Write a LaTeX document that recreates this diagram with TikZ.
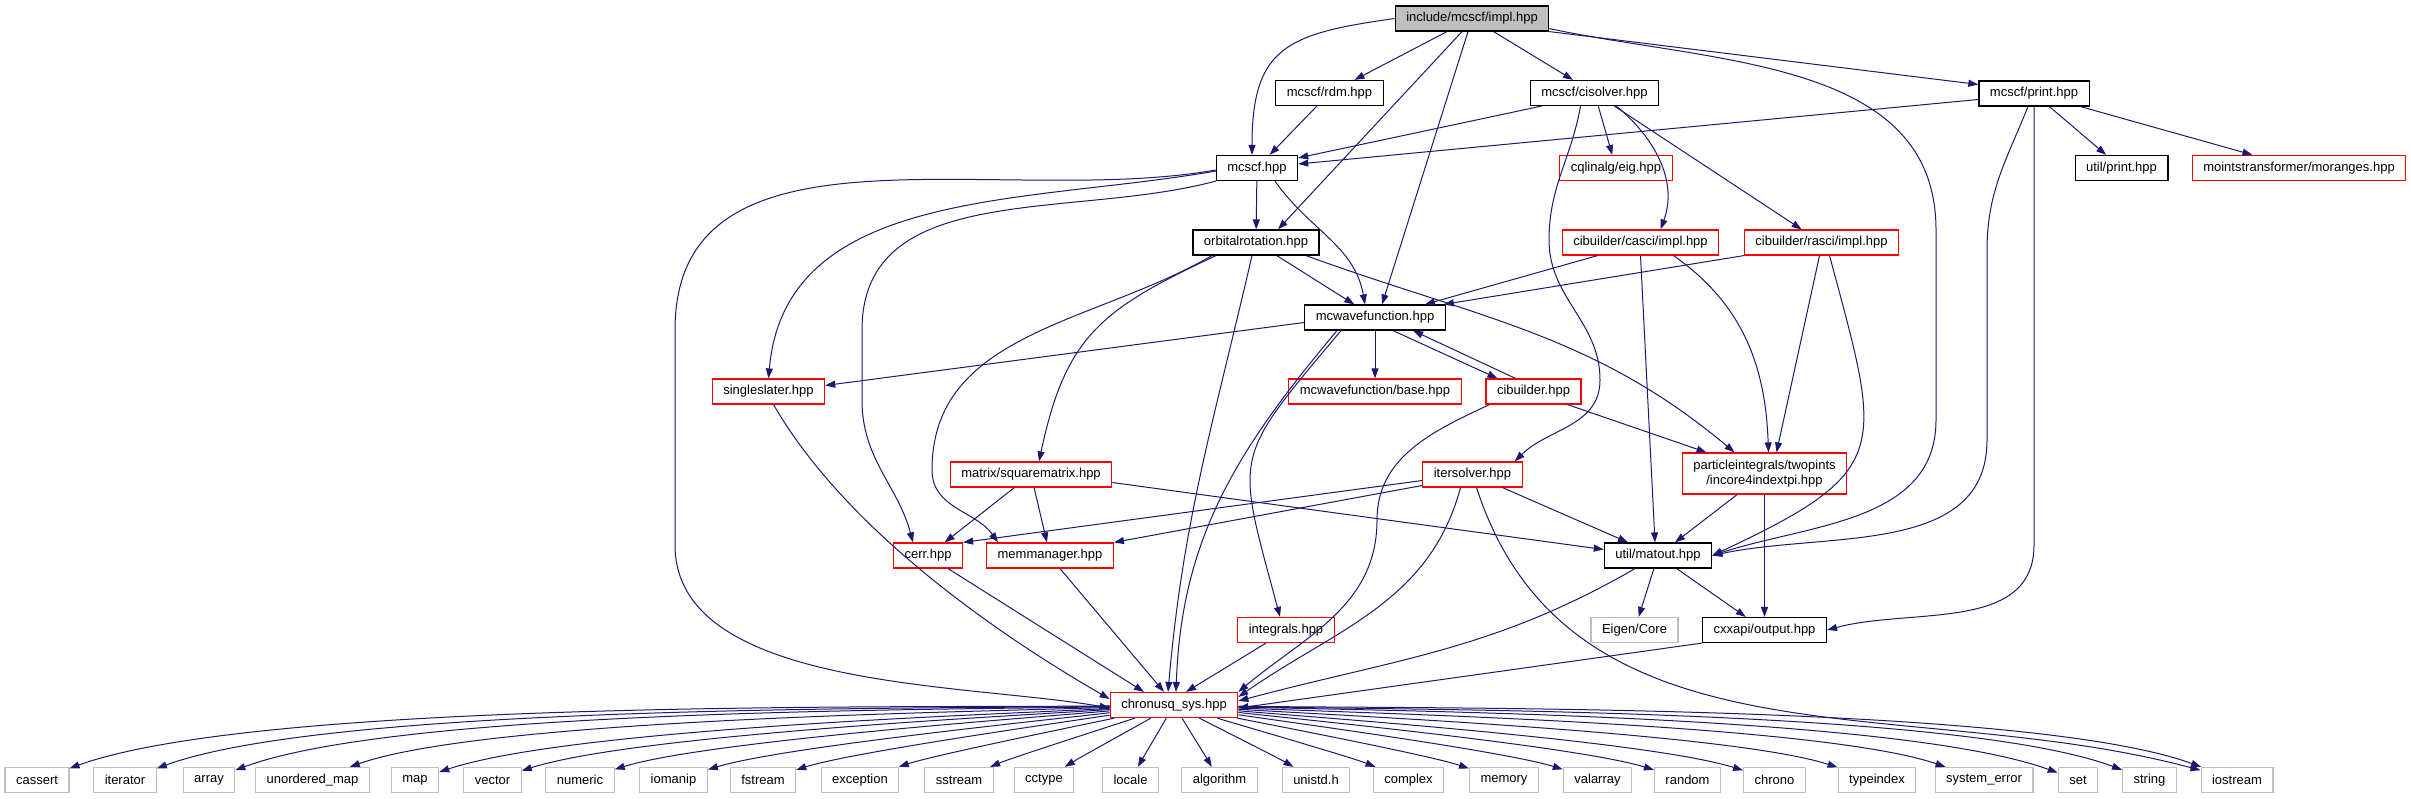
\documentclass[tikz,border=0pt]{standalone}
\usepackage{fontspec}
\setmainfont{Liberation Sans}
\usetikzlibrary{arrows.meta}
\definecolor{edgeblue}{HTML}{191970}
\definecolor{sysgrey}{HTML}{BFBFBF}
\definecolor{rootgrey}{HTML}{BFBFBF}
\tikzset{
  box/.style={draw=#1, fill=white, line width=1.2pt, rectangle, align=center, minimum height=25pt,
    inner xsep=11pt, inner ysep=3pt, font=\fontsize{13}{15}\selectfont},
  box/.default=black,
  dep/.style={-{Triangle[length=10pt, width=7pt]}, draw=edgeblue, line width=1pt},
}

\begin{document}
\begin{tikzpicture}[x=1pt, y=1pt]
  \useasboundingbox (0,0) rectangle (2411,-799);
  % headers, top to bottom
  \node[box, fill=rootgrey] (impl) at (1472,-18.5) {include/mcscf/impl.hpp};
  \node[box] (rdm) at (1329.5,-93) {mcscf/rdm.hpp};
  \node[box] (cisolver) at (1594.5,-93) {mcscf/cisolver.hpp};
  \node[box] (print) at (2034,-93.5) {mcscf/print.hpp};
  \node[box] (mcscf) at (1257,-168) {mcscf.hpp};
  \node[box=red] (eig) at (1616,-168) {cqlinalg/eig.hpp};
  \node[box] (uprint) at (2121.5,-168) {util/print.hpp};
  \node[box=red] (moranges) at (2299,-168) {mointstransformer/moranges.hpp};
  \node[box] (orbrot) at (1256,-242.5) {orbitalrotation.hpp};
  \node[box=red] (casci) at (1640.5,-242.5) {cibuilder/casci/impl.hpp};
  \node[box=red] (rasci) at (1821.5,-242.5) {cibuilder/rasci/impl.hpp};
  \node[box] (mcwf) at (1375,-317.5) {mcwavefunction.hpp};
  \node[box=red] (sslater) at (768.5,-391.5) {singleslater.hpp};
  \node[box=red] (mcwfbase) at (1375,-391.5) {mcwavefunction/base.hpp};
  \node[box=red] (cibuilder) at (1533.5,-391.5) {cibuilder.hpp};
  \node[box=red] (sqmat) at (1031,-474.5) {matrix/squarematrix.hpp};
  \node[box=red] (itersolver) at (1472.5,-474.5) {itersolver.hpp};
  \node[box=red, minimum height=41pt] (twopints) at (1764.5,-473.5) {particleintegrals/twopints\\/incore4indextpi.hpp};
  \node[box=red] (cerr) at (928,-555.5) {cerr.hpp};
  \node[box=red] (memman) at (1050,-555.5) {memmanager.hpp};
  \node[box] (matout) at (1658,-555.5) {util/matout.hpp};
  \node[box=red] (integrals) at (1286,-630) {integrals.hpp};
  \node[box=sysgrey] (eigen) at (1634.5,-630) {Eigen/Core};
  \node[box] (output) at (1764.5,-630) {cxxapi/output.hpp};
  \node[box=red] (sys) at (1174,-705) {chronusq\_sys.hpp};

  % impl.hpp
  \draw[dep] (impl.west) to[out=188, in=90, looseness=1.4] ([xshift=-5]mcscf.north);
  \draw[dep] (impl) -- (rdm);
  \draw[dep] ([xshift=-10]impl.south) -- ([xshift=22]orbrot.north);
  \draw[dep] ([xshift=-4]impl.south) -- ([xshift=7]mcwf.north);
  \draw[dep] (impl) -- (cisolver);
  \draw[dep] (impl.south east) -- ([yshift=9]print.west);
  \draw[dep] ([yshift=3]impl.south east) to[out=-12, in=90] (1936,-230) -- (1936,-420) to[out=-90, in=18] (matout.east);
  \draw[dep] (rdm) -- (mcscf);
  % cisolver.hpp
  \draw[dep] ([xshift=-53]cisolver.south) -- ([yshift=-3]mcscf.north east);
  \draw[dep] (cisolver) -- (eig);
  \draw[dep] ([xshift=22]cisolver.south) to[out=-40, in=70] ([xshift=20]casci.north);
  \draw[dep] (cisolver) -- (rasci);
  \draw[dep] ([xshift=-14]cisolver.south) to[out=-100, in=90] (1549,-240) to[out=-90, in=90] (1600,-380)
    to[out=-90, in=45] ([xshift=-8]itersolver.north east);
  % print.hpp
  \draw[dep] ([yshift=-6]print.west) -- ([yshift=4]mcscf.east);
  \draw[dep] (print) -- (uprint);
  \draw[dep] (print) -- (moranges);
  \draw[dep] ([xshift=-6]print.south) to[out=-112, in=90] (1987,-250) -- (1987,-440) to[out=-90, in=12] (matout.east);
  \draw[dep] (print.south) -- (2034,-545) to[out=-90, in=15] (output.east);
  % mcscf.hpp
  \draw[dep] (mcscf) -- (orbrot);
  \draw[dep] ([xshift=18]mcscf.south) to[out=-55, in=100] ([xshift=-10]mcwf.north);
  \draw[dep] ([yshift=-3]mcscf.west) to[out=190, in=85] (sslater.north);
  \draw[dep] (mcscf.south west) to[out=195, in=90] (862,-330) -- (862,-400) to[out=-90, in=105] ([xshift=-15]cerr.north);
  \draw[dep] ([yshift=-2]mcscf.west) to[out=190, in=90] (675,-330) -- (675,-545) to[out=-90, in=170, looseness=0.8] ([yshift=-3]sys.west);
  % orbitalrotation.hpp
  \draw[dep] (orbrot) -- (mcwf);
  \draw[dep] ([xshift=-40]orbrot.south) to[out=-155, in=78, looseness=1.2] ([xshift=8]sqmat.north);
  \draw[dep] ([xshift=-44]orbrot.south) to[out=-150, in=90] (932,-470) to[out=-90, in=125] ([xshift=-52]memman.north);
  \draw[dep] ([xshift=-4]orbrot.south) to[out=-103, in=85] ([xshift=-6]sys.north);
  \draw[dep] ([xshift=50]orbrot.south) to[out=-20, in=140] ([xshift=-30]twopints.north);
  % casci / rasci
  \draw[dep] ([xshift=-43]casci.south) -- ([xshift=50]mcwf.north);
  \draw[dep] (casci.south) -- ([xshift=-3]matout.north);
  \draw[dep] ([xshift=33]casci.south) to[out=-35, in=92] ([xshift=4]twopints.north);
  \draw[dep] (rasci.south west) -- ([xshift=-2]mcwf.north east);
  \draw[dep] ([xshift=-2]rasci.south) -- ([xshift=12]twopints.north);
  \draw[dep] ([xshift=8]rasci.south) to[out=-75, in=25, looseness=1.6] (matout.east);
  % mcwavefunction.hpp
  \draw[dep] ([yshift=-5]mcwf.west) -- ([yshift=6]sslater.east);
  \draw[dep] (mcwf) -- (mcwfbase);
  \draw[dep] ([xshift=18]mcwf.south) -- ([xshift=-36]cibuilder.north);
  \draw[dep] ([xshift=-18]cibuilder.north) -- ([xshift=38]mcwf.south);
  \draw[dep] ([xshift=-38]mcwf.south) to[out=-130, in=88] ([xshift=2]sys.north);
  \draw[dep] ([xshift=-34]mcwf.south) to[out=-130, in=105, looseness=1.5] ([xshift=-6]integrals.north);
  % cibuilder.hpp, singleslater.hpp
  \draw[dep] ([xshift=34]cibuilder.south) -- ([xshift=-58]twopints.north);
  \draw[dep] ([xshift=-44]cibuilder.south) to[out=-155, in=90] (1377,-520) to[out=-90, in=40] (sys.north east);
  \draw[dep] ([xshift=5]sslater.south) to[out=-60, in=150, looseness=0.8] ([yshift=6]sys.west);
  % squarematrix.hpp, itersolver.hpp
  \draw[dep] (sqmat) -- (cerr);
  \draw[dep] (sqmat) -- (memman);
  \draw[dep] ([yshift=-8]sqmat.east) -- ([yshift=6]matout.west);
  \draw[dep] ([yshift=-6]itersolver.west) -- (cerr.north east);
  \draw[dep] ([yshift=-11]itersolver.west) -- (memman.north east);
  \draw[dep] (itersolver) -- (matout);
  \draw[dep] ([xshift=-12]itersolver.south) to[out=-105, in=35] ([yshift=8]sys.east);
  \draw[dep] (twopints) -- (matout);
  \draw[dep] (twopints) -- (output);
  % lower level
  \draw[dep] ([xshift=20]cerr.south) -- ([xshift=-30]sys.north);
  \draw[dep] ([xshift=10]memman.south) -- ([xshift=-10]sys.north);
  \draw[dep] ([xshift=-20]integrals.south) -- ([xshift=12]sys.north);
  \draw[dep] ([xshift=-23]matout.south) to[out=-150, in=15] ([yshift=4]sys.east);
  \draw[dep] (matout) -- (eigen);
  \draw[dep] (matout) -- (output);
  \draw[dep] (output.south west) -- ([yshift=-3]sys.east);

  % system headers
  \foreach \x/\n [count=\i] in {37/cassert, 125/iterator, 209/array, 312.5/unordered\_map, 415/map,
      492.5/vector, 580/numeric, 673.5/iomanip, 763/fstream, 860/exception, 959/sstream, 1044/cctype,
      1130.5/locale, 1219.5/algorithm, 1316/unistd.h, 1408.5/complex, 1504/memory, 1597.5/valarray,
      1687.5/random, 1774.5/chrono, 1877/typeindex, 1984/system\_error, 2078/set, 2149.5/string, 2237/iostream} {
    \node[box=sysgrey] (leaf\i) at (\x,-780) {\n};
    \pgfmathsetmacro\dx{\x-1174}
    \pgfmathsetmacro\sg{\dx<0 ? -1 : 1}
    \pgfmathsetmacro\ang{atan2(-75,\dx)}
    \pgfmathsetmacro\aout{\ang+\sg*min(abs(\dx)/300,3)}
    \pgfmathsetmacro\ain{\ang+180-\sg*min(abs(\dx)/60,16)}
    \pgfmathsetmacro\len{0.2*abs(\dx)+15}
    \draw[dep] (sys) .. controls +(\aout:\len) and +(\ain:\len) .. (leaf\i);
  }
  \draw[dep] ([xshift=4]itersolver.south) to[out=-72, in=165] (leaf25);
\end{tikzpicture}
\end{document}
